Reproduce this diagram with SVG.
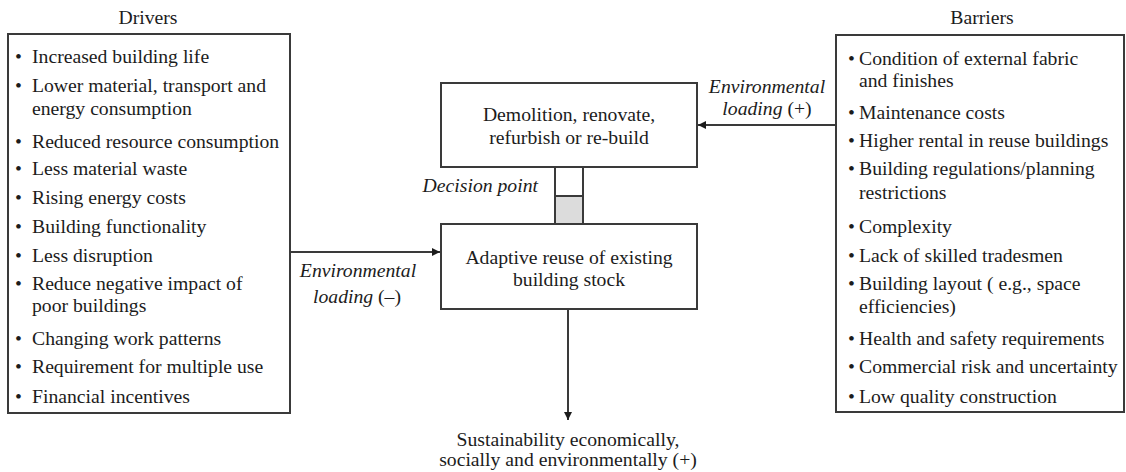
<svg xmlns="http://www.w3.org/2000/svg" width="1126" height="472" viewBox="0 0 1126 472">
<style>
text{font-family:"Liberation Serif","Times New Roman",serif;font-size:19.7px;fill:#1c1c1c}
.it{font-style:italic}
.c{text-anchor:middle}
.box{fill:#fff;stroke:#3a3a3a;stroke-width:2}
.ln{fill:none;stroke:#3a3a3a;stroke-width:2}
</style>
<defs>
<marker id="ah" viewBox="0 0 10 10" refX="10" refY="5" markerWidth="9" markerHeight="8" markerUnits="userSpaceOnUse" orient="auto">
<path d="M0,0 L10,5 L0,10 Z" fill="#1c1c1c"/>
</marker>
</defs>
<rect width="1126" height="472" fill="#fff"/>

<g id="drivers">
<text class="c" x="148" y="24">Drivers</text>
<rect class="box" x="8" y="34" width="282" height="379"/>
<text x="15" y="63">•</text><text x="32" y="63">Increased building life</text>
<text x="15" y="92">•</text><text x="32" y="92">Lower material, transport and</text>
<text x="32" y="115">energy consumption</text>
<text x="15" y="148">•</text><text x="32" y="148">Reduced resource consumption</text>
<text x="15" y="175">•</text><text x="32" y="175">Less material waste</text>
<text x="15" y="204">•</text><text x="32" y="204">Rising energy costs</text>
<text x="15" y="233">•</text><text x="32" y="233">Building functionality</text>
<text x="15" y="262">•</text><text x="32" y="262">Less disruption</text>
<text x="15" y="290">•</text><text x="32" y="290">Reduce negative impact of</text>
<text x="32" y="312">poor buildings</text>
<text x="15" y="345">•</text><text x="32" y="345">Changing work patterns</text>
<text x="15" y="373">•</text><text x="32" y="373">Requirement for multiple use</text>
<text x="15" y="403">•</text><text x="32" y="403">Financial incentives</text>
</g>

<g id="barriers">
<text class="c" x="982" y="24">Barriers</text>
<rect class="box" x="836" y="35" width="288" height="377"/>
<text x="848" y="65">•</text><text x="859" y="65">Condition of external fabric</text>
<text x="859" y="87">and finishes</text>
<text x="848" y="119">•</text><text x="859" y="119">Maintenance costs</text>
<text x="848" y="147">•</text><text x="859" y="147">Higher rental in reuse buildings</text>
<text x="848" y="175">•</text><text x="859" y="175">Building regulations/planning</text>
<text x="859" y="199">restrictions</text>
<text x="848" y="233">•</text><text x="859" y="233">Complexity</text>
<text x="848" y="262">•</text><text x="859" y="262">Lack of skilled tradesmen</text>
<text x="848" y="290">•</text><text x="859" y="290">Building layout ( e.g., space</text>
<text x="859" y="313">efficiencies)</text>
<text x="848" y="345">•</text><text x="859" y="345">Health and safety requirements</text>
<text x="848" y="373">•</text><text x="859" y="373">Commercial risk and uncertainty</text>
<text x="848" y="403">•</text><text x="859" y="403">Low quality construction</text>
</g>

<g id="demolition">
<rect class="box" x="441" y="83" width="256" height="84"/>
<text class="c" x="569" y="121">Demolition, renovate,</text>
<text class="c" x="569" y="144">refurbish or re-build</text>
</g>

<g id="decision">
<rect x="555" y="167" width="28" height="29" fill="#fff" stroke="#3a3a3a" stroke-width="2"/>
<rect x="555" y="196" width="28" height="28" fill="#dcdcdc" stroke="#3a3a3a" stroke-width="2"/>
<text class="it" x="538" y="192" text-anchor="end">Decision point</text>
</g>

<g id="adaptive">
<rect class="box" x="441" y="224" width="256" height="85"/>
<text class="c" x="569" y="264">Adaptive reuse of existing</text>
<text class="c" x="569" y="286">building stock</text>
</g>

<g id="sustainability">
<text class="c" x="568" y="446">Sustainability economically,</text>
<text class="c" x="568" y="466">socially and environmentally (+)</text>
</g>

<g id="connectors">
<line class="ln" x1="290" y1="252" x2="440" y2="252" marker-end="url(#ah)"/>
<line class="ln" x1="836" y1="125" x2="698" y2="125" marker-end="url(#ah)"/>
<line class="ln" x1="568" y1="309" x2="568" y2="420" marker-end="url(#ah)"/>
<text class="c" x="358" y="277"><tspan class="it">Environmental</tspan></text>
<text class="c" x="357" y="303"><tspan class="it">loading</tspan> (–)</text>
<text class="c" x="767" y="93"><tspan class="it">Environmental</tspan></text>
<text class="c" x="767" y="115"><tspan class="it">loading</tspan> (+)</text>
</g>
</svg>
